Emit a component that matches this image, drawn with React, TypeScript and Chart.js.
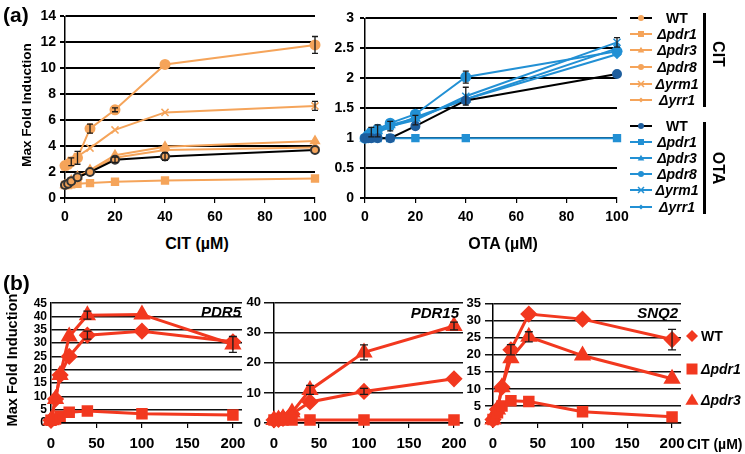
import React, { useEffect, useRef } from 'react';
import { Chart, registerables } from 'chart.js';
Chart.register(...registerables);

const FONT = "'Liberation Sans', Arial, sans-serif";
const ORANGE = '#F5A45A';
const BLUE = '#2290D4';
const DARKBLUE = '#1E5E9E';
const RED = '#F2381F';

// ---------- (a) data ----------
const concX = [0, 1.25, 2.5, 5, 10, 20, 40, 100];
const aTicksX = [0, 20, 40, 60, 80, 100];
const citWT = [1.0, 1.1, 1.3, 1.6, 2.0, 2.95, 3.2, 3.7];
const citPdr1 = [1.0, 1.0, 1.05, 1.1, 1.15, 1.25, 1.35, 1.5];
const citPdr3 = [1.0, 1.15, 1.35, 1.65, 2.15, 3.3, 3.95, 4.4];
const citPdr8 = [2.5, 2.6, 2.8, 3.1, 5.35, 6.8, 10.3, 11.8];
const citYrm1 = [2.4, 2.6, 2.9, 3.2, 3.85, 5.25, 6.6, 7.1];
const citYrr1 = [1.0, 1.1, 1.3, 1.55, 2.1, 3.1, 3.7, 3.9];
const citErrWT = [0, 0, 0, 0, 0, 0.2, 0.3, 0];
const citErrPdr8 = [0, 0, 0.3, 0.5, 0.35, 0.15, 0, 0.65];
const citErrYrm1 = [0, 0, 0, 0, 0, 0, 0, 0.35];

const otaWT = [1, 1, 1, 1, 1.0, 1.2, 1.63, 2.07];
const otaPdr1 = [1, 1, 1, 1, 1, 1, 1, 1];
const otaPdr3 = [1, 1.02, 1.08, 1.12, 1.22, 1.33, 1.65, 2.5];
const otaPdr8 = [1, 1.05, 1.1, 1.15, 1.25, 1.4, 2.02, 2.45];
const otaYrm1 = [1, 1.05, 1.1, 1.12, 1.2, 1.3, 1.7, 2.6];
const otaYrr1 = [1, 1.03, 1.08, 1.1, 1.18, 1.35, 1.65, 2.4];
const otaErrPdr8 = [0, 0, 0, 0, 0, 0, 0.1, 0];
const otaErrYrm1 = [0, 0, 0.08, 0.1, 0.08, 0.08, 0.15, 0.08];

// ---------- (b) data ----------
const citB = [0, 5, 10, 20, 40, 100, 200];
const bTicksX = [0, 50, 100, 150, 200];
const pdr5WT = [1, 9, 18, 25, 33, 34.5, 30.5];
const pdr5Pdr1 = [1, 1.5, 2.5, 4, 4.5, 3.5, 3];
const pdr5Pdr3 = [1, 9, 18, 32.5, 40.5, 40.8, 29.5];
const pdr5ErrWT = [0, 0, 0, 0, 1.5, 0, 0];
const pdr5ErrPdr3 = [0, 0, 0, 0, 1.5, 0, 3];
const pdr15WT = [1, 1.2, 1.5, 3, 7, 10.5, 14.7];
const pdr15Pdr1 = [1, 1, 1, 1, 1, 1, 1];
const pdr15Pdr3 = [1, 1.2, 1.6, 3.5, 11, 23.5, 32.3];
const pdr15ErrWT = [0, 0, 0, 0, 0, 1, 0];
const pdr15ErrPdr3 = [0, 0, 0, 0, 1.5, 2.5, 1.3];
const snq2WT = [1, 4, 10.5, 21.5, 32, 30.5, 24.5];
const snq2Pdr1 = [1, 3, 5, 6.5, 6.3, 3.3, 1.8];
const snq2Pdr3 = [1, 4, 10.5, 19, 25.3, 19.8, 13];
const snq2ErrWT = [0, 0, 0, 1.5, 0, 0, 3];
const snq2ErrPdr3 = [0, 0, 0, 0, 1.5, 0, 0];

const strainsCIT = ['WT', 'Δpdr1', 'Δpdr3', 'Δpdr8', 'Δyrm1', 'Δyrr1'];
const strainsB = ['WT', 'Δpdr1', 'Δpdr3'];

function ds(xs: number[], ys: number[], o: any) {
  return {
    data: xs.map((x, i) => ({ x, y: ys[i] })),
    tension: 0,
    clip: false,
    fill: false,
    ...o,
  };
}

const errorBars = {
  id: 'errorBars',
  afterDatasetsDraw(chart: any) {
    const { ctx } = chart;
    const xs = chart.scales.x;
    const ys = chart.scales.y;
    chart.data.datasets.forEach((d: any) => {
      if (!d.errors) return;
      ctx.save();
      ctx.strokeStyle = '#1a1a1a';
      ctx.lineWidth = 1.3;
      d.errors.forEach((e: number, i: number) => {
        if (!e) return;
        const p = d.data[i];
        const px = xs.getPixelForValue(p.x);
        const y1 = ys.getPixelForValue(p.y + e);
        const y2 = ys.getPixelForValue(p.y - e);
        const w = d.capW || 3;
        ctx.beginPath();
        ctx.moveTo(px, y1); ctx.lineTo(px, y2);
        ctx.moveTo(px - w, y1); ctx.lineTo(px + w, y1);
        ctx.moveTo(px - w, y2); ctx.lineTo(px + w, y2);
        ctx.stroke();
      });
      ctx.restore();
    });
  },
};

type Spec = {
  left: number; top: number; width: number; height: number;
  pl: number; pt: number; pr: number; pb: number;
  xMax: number; xTicks: number[]; yMax: number; yStep: number;
  xFont: number; yFont: number;
  yTick: number; yPad: number; xTick: number; xPad: number;
  gridColor: string; gridWidth: number;
  datasets: any[];
};

function makeChart(canvas: HTMLCanvasElement, s: Spec) {
  return new Chart(canvas, {
    type: 'line',
    data: { datasets: s.datasets },
    plugins: [errorBars],
    options: {
      responsive: false,
      animation: false,
      events: [],
      layout: { padding: { top: s.pt - s.top, right: s.left + s.width - s.pr, left: 0, bottom: 0 } },
      plugins: { legend: { display: false }, tooltip: { enabled: false } },
      scales: {
        x: {
          type: 'linear',
          min: 0,
          max: s.xMax,
          afterBuildTicks: (sc: any) => {
            sc.ticks = s.xTicks.map((v) => ({ value: v }));
          },
          ticks: {
            autoSkip: false, color: '#000', padding: s.xPad, maxRotation: 0,
            font: { family: FONT, size: s.xFont, weight: 'bold' },
            callback: (v: any) => String(v),
          },
          grid: { drawOnChartArea: false, drawTicks: true, tickLength: s.xTick, color: '#000', lineWidth: 1.2 },
          border: { color: '#000', width: 1.5 },
          afterFit: (sc: any) => { sc.height = s.top + s.height - s.pb; },
        },
        y: {
          type: 'linear',
          min: 0,
          max: s.yMax,
          ticks: {
            stepSize: s.yStep, autoSkip: false, color: '#000', padding: s.yPad,
            font: { family: FONT, size: s.yFont, weight: 'bold' },
            callback: (v: any) => String(Math.round(v * 100) / 100),
          },
          grid: { color: s.gridColor, lineWidth: s.gridWidth, drawTicks: s.yTick > 0, tickLength: s.yTick },
          border: { color: '#000', width: 1.5 },
          afterFit: (sc: any) => { sc.width = s.pl - s.left; },
        },
      },
    } as any,
  });
}

function Marker({ shape, color, line, size, w = 22 }: { shape: string; color: string; line?: string; size: number; w?: number }) {
  const c = w / 2, m = 8;
  let el: any = null;
  if (shape === 'circle') el = <circle cx={c} cy={m} r={size} fill={color} />;
  else if (shape === 'rect') el = <rect x={c - size} y={m - size} width={2 * size} height={2 * size} fill={color} />;
  else if (shape === 'triangle') el = <polygon points={`${c},${m - size * 1.1} ${c + size * 1.1},${m + size * 0.8} ${c - size * 1.1},${m + size * 0.8}`} fill={color} />;
  else if (shape === 'diamond') el = <polygon points={`${c},${m - size} ${c + size},${m} ${c},${m + size} ${c - size},${m}`} fill={color} />;
  else if (shape === 'cross') el = <path d={`M${c - size} ${m - size}L${c + size} ${m + size}M${c - size} ${m + size}L${c + size} ${m - size}`} stroke={color} strokeWidth={1.5} />;
  return (
    <svg width={w} height={16} style={{ display: 'block' }}>
      {line && <line x1={0} y1={m} x2={w} y2={m} stroke={line} strokeWidth={2} />}
      {el}
    </svg>
  );
}

const txt = (s: any): any => ({ position: 'absolute', fontFamily: FONT, fontWeight: 'bold', color: '#000', whiteSpace: 'nowrap', lineHeight: 1, ...s });

export default function App() {
  const r1 = useRef<HTMLCanvasElement>(null);
  const r2 = useRef<HTMLCanvasElement>(null);
  const r3 = useRef<HTMLCanvasElement>(null);
  const r4 = useRef<HTMLCanvasElement>(null);
  const r5 = useRef<HTMLCanvasElement>(null);

  const specA1: Spec = {
    left: 25, top: 4, width: 310, height: 226, pl: 65, pt: 16, pr: 315, pb: 198,
    xMax: 100, xTicks: aTicksX, yMax: 14, yStep: 2, xFont: 14, yFont: 14,
    yTick: 5, yPad: 4, xTick: 5, xPad: 6, gridColor: '#000', gridWidth: 2,
    datasets: [
      ds(concX, citWT, { borderColor: '#000', borderWidth: 2, pointStyle: 'circle', pointRadius: 4, pointBackgroundColor: ORANGE, pointBorderColor: '#333', errors: citErrWT }),
      ds(concX, citPdr1, { borderColor: ORANGE, borderWidth: 2, pointStyle: 'rect', pointRadius: 4.5, pointBackgroundColor: ORANGE, pointBorderColor: ORANGE }),
      ds(concX, citPdr3, { borderColor: ORANGE, borderWidth: 2, pointStyle: 'triangle', pointRadius: 4.5, pointBackgroundColor: ORANGE, pointBorderColor: ORANGE }),
      ds(concX, citYrr1, { borderColor: ORANGE, borderWidth: 2, pointStyle: 'rectRot', pointRadius: 3.5, pointBackgroundColor: ORANGE, pointBorderColor: ORANGE }),
      ds(concX, citYrm1, { borderColor: ORANGE, borderWidth: 2, pointStyle: 'crossRot', pointRadius: 5, pointBackgroundColor: ORANGE, pointBorderColor: ORANGE, pointBorderWidth: 1.5, errors: citErrYrm1 }),
      ds(concX, citPdr8, { borderColor: ORANGE, borderWidth: 2, pointStyle: 'circle', pointRadius: 4.5, pointBackgroundColor: ORANGE, pointBorderColor: ORANGE, errors: citErrPdr8 }),
    ],
  };

  const specA2: Spec = {
    left: 325, top: 4, width: 310, height: 226, pl: 365, pt: 16, pr: 617, pb: 198,
    xMax: 100, xTicks: aTicksX, yMax: 3, yStep: 0.5, xFont: 14, yFont: 14,
    yTick: 5, yPad: 6, xTick: 5, xPad: 6, gridColor: '#000', gridWidth: 2,
    datasets: [
      ds(concX, otaWT, { borderColor: '#000', borderWidth: 2, pointStyle: 'circle', pointRadius: 4, pointBackgroundColor: DARKBLUE, pointBorderColor: DARKBLUE }),
      ds(concX, otaPdr1, { borderColor: BLUE, borderWidth: 2, pointStyle: 'rect', pointRadius: 4.5, pointBackgroundColor: BLUE, pointBorderColor: BLUE }),
      ds(concX, otaPdr3, { borderColor: BLUE, borderWidth: 2, pointStyle: 'triangle', pointRadius: 4.5, pointBackgroundColor: BLUE, pointBorderColor: BLUE }),
      ds(concX, otaYrr1, { borderColor: BLUE, borderWidth: 2, pointStyle: 'rectRot', pointRadius: 3.5, pointBackgroundColor: BLUE, pointBorderColor: BLUE }),
      ds(concX, otaYrm1, { borderColor: BLUE, borderWidth: 2, pointStyle: 'crossRot', pointRadius: 5, pointBackgroundColor: BLUE, pointBorderColor: BLUE, pointBorderWidth: 1.5, errors: otaErrYrm1 }),
      ds(concX, otaPdr8, { borderColor: BLUE, borderWidth: 2, pointStyle: 'circle', pointRadius: 4.5, pointBackgroundColor: BLUE, pointBorderColor: BLUE, errors: otaErrPdr8 }),
    ],
  };

  const redSets = (wt: number[], p1: number[], p3: number[], eW: number[], e3: number[]) => [
    ds(citB, p1, { borderColor: RED, borderWidth: 3, pointStyle: 'rect', pointRadius: 6, pointBackgroundColor: RED, pointBorderColor: RED }),
    ds(citB, wt, { borderColor: RED, borderWidth: 3, pointStyle: 'rectRot', pointRadius: 6.5, pointBackgroundColor: RED, pointBorderColor: RED, errors: eW, capW: 4 }),
    ds(citB, p3, { borderColor: RED, borderWidth: 3, pointStyle: 'triangle', pointRadius: 7, pointBackgroundColor: RED, pointBorderColor: RED, errors: e3, capW: 4 }),
  ];

  const specB1: Spec = {
    left: 20, top: 292, width: 240, height: 162, pl: 51, pt: 302, pr: 242, pb: 423,
    xMax: 210, xTicks: bTicksX, yMax: 45, yStep: 5, xFont: 15, yFont: 12,
    yTick: 0, yPad: 4, xTick: 5, xPad: 7, gridColor: '#111', gridWidth: 1.5,
    datasets: redSets(pdr5WT, pdr5Pdr1, pdr5Pdr3, pdr5ErrWT, pdr5ErrPdr3),
  };
  const specB2: Spec = {
    left: 240, top: 292, width: 240, height: 162, pl: 274, pt: 302, pr: 463, pb: 423,
    xMax: 210, xTicks: bTicksX, yMax: 40, yStep: 10, xFont: 15, yFont: 13,
    yTick: 10, yPad: 3, xTick: 5, xPad: 7, gridColor: '#111', gridWidth: 1.5,
    datasets: redSets(pdr15WT, pdr15Pdr1, pdr15Pdr3, pdr15ErrWT, pdr15ErrPdr3),
  };
  const specB3: Spec = {
    left: 462, top: 292, width: 238, height: 162, pl: 493, pt: 302, pr: 681, pb: 423,
    xMax: 210, xTicks: bTicksX, yMax: 35, yStep: 5, xFont: 15, yFont: 13,
    yTick: 8, yPad: 4, xTick: 5, xPad: 7, gridColor: '#111', gridWidth: 1.5,
    datasets: redSets(snq2WT, snq2Pdr1, snq2Pdr3, snq2ErrWT, snq2ErrPdr3),
  };

  const specs = [specA1, specA2, specB1, specB2, specB3];
  const refs = [r1, r2, r3, r4, r5];

  useEffect(() => {
    const charts = refs.map((r, i) => makeChart(r.current as HTMLCanvasElement, specs[i]));
    return () => charts.forEach((c) => c.destroy());
  }, []);

  const citShapes = ['circle', 'rect', 'triangle', 'circle', 'cross', 'diamond'];
  const citRowsY = [18, 34, 50, 67, 84, 100];
  const otaRowsY = [126, 142, 158, 174, 190, 207];
  const bShapes = ['diamond', 'rect', 'triangle'];
  const bRowsY = [336, 369, 400];

  return (
    <div style={{ position: 'fixed', left: 0, top: 0, width: 745, height: 454, background: '#fff', overflow: 'hidden' }}>
      {specs.map((s, i) => (
        <canvas key={i} ref={refs[i]} width={s.width} height={s.height}
          style={{ position: 'absolute', left: s.left, top: s.top, width: s.width, height: s.height }} />
      ))}

      <div style={txt({ left: 3, top: 4, fontSize: 21 })}>(a)</div>
      <div style={txt({ left: 3, top: 272, fontSize: 21 })}>(b)</div>

      <div style={txt({ left: 27, top: 105, fontSize: 13.6, transform: 'translate(-50%,-50%) rotate(-90deg)' })}>Max Fold Induction</div>
      <div style={txt({ left: 12, top: 360, fontSize: 14.6, transform: 'translate(-50%,-50%) rotate(-90deg)' })}>Max Fold Induction</div>

      <div style={txt({ left: 197, top: 244, fontSize: 16, transform: 'translate(-50%,-50%)' })}>CIT (µM)</div>
      <div style={txt({ left: 503, top: 244, fontSize: 16, transform: 'translate(-50%,-50%)' })}>OTA (µM)</div>
      <div style={txt({ left: 687, top: 437, fontSize: 14 })}>CIT (µM)</div>

      <div style={txt({ left: 241, top: 304, fontSize: 15, fontStyle: 'italic', transform: 'translateX(-100%)' })}>PDR5</div>
      <div style={txt({ left: 459, top: 305, fontSize: 15, fontStyle: 'italic', transform: 'translateX(-100%)' })}>PDR15</div>
      <div style={txt({ left: 678, top: 305, fontSize: 15, fontStyle: 'italic', transform: 'translateX(-100%)' })}>SNQ2</div>

      {strainsCIT.map((n, i) => (
        <React.Fragment key={'c' + i}>
          <div style={{ position: 'absolute', left: 630, top: citRowsY[i] - 8 }}>
            <Marker shape={citShapes[i]} color={ORANGE} line={i === 0 ? '#000' : ORANGE} size={i === 5 ? 2.5 : 3} />
          </div>
          <div style={txt({ left: 677, top: citRowsY[i], fontSize: 14, fontStyle: i === 0 ? 'normal' : 'italic', transform: 'translate(-50%,-50%)' })}>{n}</div>
        </React.Fragment>
      ))}
      {strainsCIT.map((n, i) => (
        <React.Fragment key={'o' + i}>
          <div style={{ position: 'absolute', left: 630, top: otaRowsY[i] - 8 }}>
            <Marker shape={citShapes[i]} color={i === 0 ? DARKBLUE : BLUE} line={i === 0 ? '#000' : BLUE} size={i === 5 ? 2.5 : 3} />
          </div>
          <div style={txt({ left: 677, top: otaRowsY[i], fontSize: 14, fontStyle: i === 0 ? 'normal' : 'italic', transform: 'translate(-50%,-50%)' })}>{n}</div>
        </React.Fragment>
      ))}
      <div style={{ position: 'absolute', left: 703, top: 13, width: 3, height: 94, background: '#000' }} />
      <div style={{ position: 'absolute', left: 703, top: 122, width: 3, height: 92, background: '#000' }} />
      <div style={txt({ left: 718, top: 54, fontSize: 16, transform: 'translate(-50%,-50%) rotate(90deg)' })}>CIT</div>
      <div style={txt({ left: 718, top: 168, fontSize: 16, transform: 'translate(-50%,-50%) rotate(90deg)' })}>OTA</div>

      {strainsB.map((n, i) => (
        <React.Fragment key={'b' + i}>
          <div style={{ position: 'absolute', left: 684, top: bRowsY[i] - 8 }}>
            <Marker shape={bShapes[i]} color={RED} size={i === 1 ? 5.5 : 6} w={16} />
          </div>
          <div style={txt({ left: 701, top: bRowsY[i], fontSize: 14, fontStyle: i === 0 ? 'normal' : 'italic', transform: 'translateY(-50%)' })}>{n}</div>
        </React.Fragment>
      ))}
    </div>
  );
}
